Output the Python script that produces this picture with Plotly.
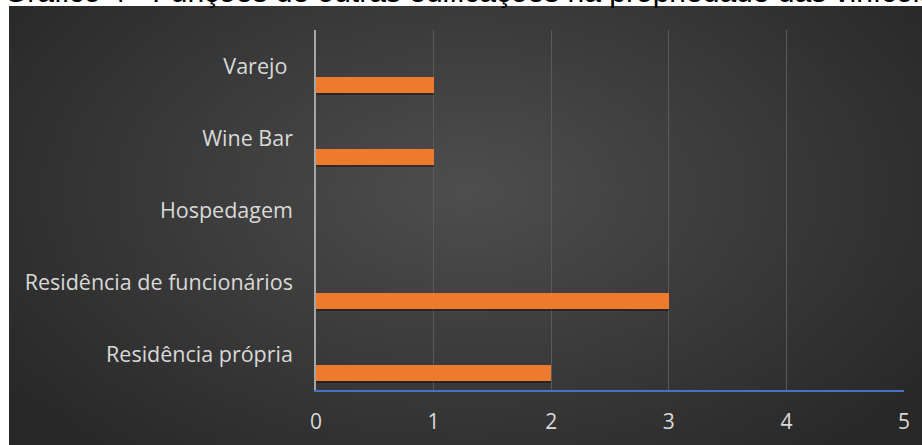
import base64
import struct
import zlib

import plotly.graph_objects as go

# Chart data
categorias = [
    "Residência própria",
    "Residência de funcionários",
    "Hospedagem",
    "Wine Bar",
    "Varejo\u00a0",
]
quantidades = [2, 3, 0, 1, 1]
x_ticks = [0, 1, 2, 3, 4, 5]

titulo = "Gráfico 4 - Funções de outras edificações na propriedade das vinícolas"

W, H = 922, 445
M_L, M_R, M_T, M_B = 316, 18, 30, 55
PLOT_W = W - M_L - M_R
PLOT_H = H - M_T - M_B


def gradient_png(w, h, light=78, dark=40, cx=0.50, cy=0.42, rx=0.62, ry=0.80):
    """Grayscale PNG with a soft elliptical glow, used as the panel background."""
    raw = bytearray()
    for j in range(h):
        raw.append(0)
        for i in range(w):
            dx = (i / (w - 1) - cx) / rx
            dy = (j / (h - 1) - cy) / ry
            r = min(1.0, (dx * dx + dy * dy) ** 0.5)
            raw.append(int(round(light - (light - dark) * r)))

    def chunk(tag, data):
        c = struct.pack(">I", len(data)) + tag + data
        return c + struct.pack(">I", zlib.crc32(tag + data) & 0xFFFFFFFF)

    png = b"\x89PNG\r\n\x1a\n"
    png += chunk(b"IHDR", struct.pack(">IIBBBBB", w, h, 8, 0, 0, 0, 0))
    png += chunk(b"IDAT", zlib.compress(bytes(raw), 9))
    png += chunk(b"IEND", b"")
    return "data:image/png;base64," + base64.b64encode(png).decode()


def px_x(p):
    return (p - M_L) / PLOT_W


def px_y(p):
    return (H - M_B - p) / PLOT_H


BAR_W = 0.222
BAR_OFF = -0.37

fig = go.Figure()

# soft drop shadow under each bar
fig.add_trace(go.Bar(
    y=categorias, x=quantidades, orientation="h",
    width=BAR_W, offset=BAR_OFF - 0.035,
    marker=dict(color="rgba(0,0,0,0.35)", line=dict(width=0)),
    hoverinfo="skip", showlegend=False,
))
fig.add_trace(go.Bar(
    y=categorias, x=quantidades, orientation="h",
    width=BAR_W, offset=BAR_OFF,
    marker=dict(color="#EE7A2E", line=dict(width=0)),
    showlegend=False,
))

fig.update_layout(
    width=W, height=H,
    margin=dict(l=M_L, r=M_R, t=M_T, b=M_B, pad=0, autoexpand=False),
    paper_bgcolor="white",
    plot_bgcolor="rgba(0,0,0,0)",
    barmode="overlay",
    bargap=0,
    font=dict(family="Open Sans", color="#D9D9D9"),
    xaxis=dict(
        range=[0, 5], tickvals=x_ticks, ticktext=[str(v) for v in x_ticks],
        showgrid=True, gridcolor="#5A5A5A", gridwidth=1,
        zeroline=False,
        showline=True, linecolor="#4472C4", linewidth=1.5,
        ticks="", ticklabelstandoff=12,
        tickfont=dict(size=21, color="#D9D9D9"),
        automargin=False, fixedrange=True,
    ),
    yaxis=dict(
        categoryorder="array", categoryarray=categorias,
        showgrid=False, zeroline=False,
        showline=True, linecolor="#A6A6A6", linewidth=1.5,
        ticks="", ticklabelstandoff=17,
        tickfont=dict(size=21.5, color="#D9D9D9"),
        automargin=False, fixedrange=True,
    ),
    images=[dict(
        source=gradient_png(183, 88),
        xref="paper", yref="paper",
        x=px_x(9), y=px_y(6),
        sizex=(W - 9) / PLOT_W, sizey=(H - 6) / PLOT_H,
        xanchor="left", yanchor="top",
        sizing="stretch", layer="below",
    )],
    annotations=[dict(
        text=titulo,
        xref="paper", yref="paper",
        x=px_x(2), y=px_y(10.5),
        xanchor="left", yanchor="bottom",
        showarrow=False,
        font=dict(family="Liberation Sans", size=30, color="black"),
    )],
)

fig.write_html("out.html", config={"displayModeBar": False})
